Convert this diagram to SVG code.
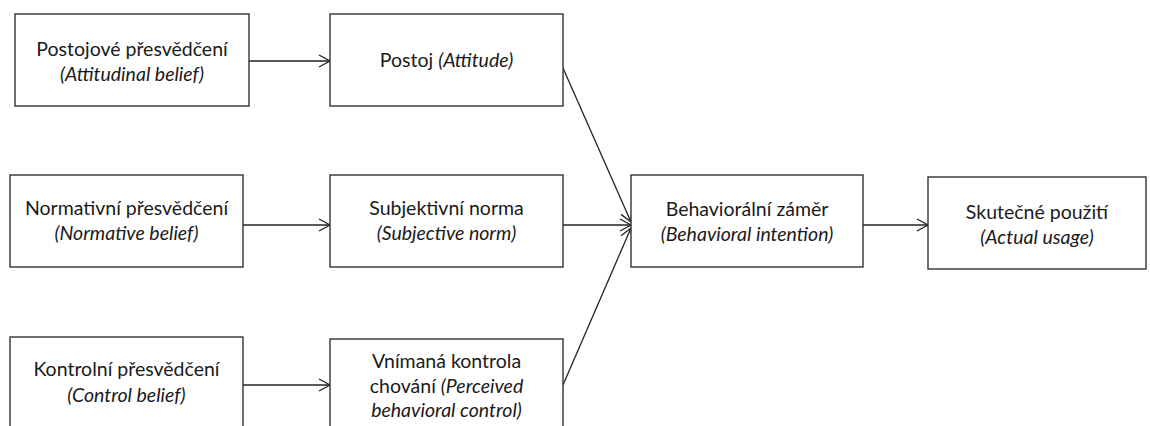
<svg xmlns="http://www.w3.org/2000/svg" width="1150" height="426" viewBox="0 0 1150 426">
  <style>
    .box { fill: #ffffff; stroke: #333333; stroke-width: 1.4; }
    .lbl { font-family: Lato, "Open Sans", "Liberation Sans", sans-serif; font-size: 19.5px; fill: #1a1a1a; text-anchor: middle; }
    .it { font-style: italic; }
    .conn { fill: none; stroke: #222222; stroke-width: 1.3; }
  </style>
  <defs>
    <marker id="arrow" markerUnits="userSpaceOnUse" markerWidth="14" markerHeight="14" viewBox="-12 -7 14 14" refX="0" refY="0" orient="auto">
      <path d="M-11,-6 L0,0 L-11,6" fill="none" stroke="#222222" stroke-width="1.3"/>
    </marker>
  </defs>
  <rect width="1150" height="426" fill="#ffffff"/>

  <g id="connectors">
    <line class="conn" x1="249" y1="61" x2="330" y2="61" marker-end="url(#arrow)"/>
    <line class="conn" x1="243" y1="225" x2="330" y2="225" marker-end="url(#arrow)"/>
    <line class="conn" x1="243" y1="385" x2="330" y2="385" marker-end="url(#arrow)"/>
    <line class="conn" x1="563" y1="68" x2="631" y2="222" marker-end="url(#arrow)"/>
    <line class="conn" x1="563" y1="225" x2="631" y2="225" marker-end="url(#arrow)"/>
    <line class="conn" x1="563" y1="385" x2="631" y2="228" marker-end="url(#arrow)"/>
    <line class="conn" x1="863" y1="225" x2="928" y2="225" marker-end="url(#arrow)"/>
  </g>

  <g id="attitudinal-belief">
    <rect class="box" x="15" y="14" width="234" height="92"/>
    <text class="lbl" x="132" y="56">Postojové přesvědčení</text>
    <text class="lbl it" x="132" y="81">(Attitudinal belief)</text>
  </g>
  <g id="attitude">
    <rect class="box" x="330" y="14" width="233" height="92"/>
    <text class="lbl" x="446.5" y="67">Postoj <tspan class="it">(Attitude)</tspan></text>
  </g>

  <g id="normative-belief">
    <rect class="box" x="10" y="175" width="233" height="92"/>
    <text class="lbl" x="126.5" y="215">Normativní přesvědčení</text>
    <text class="lbl it" x="126.5" y="240">(Normative belief)</text>
  </g>
  <g id="subjective-norm">
    <rect class="box" x="330" y="175" width="233" height="92"/>
    <text class="lbl" x="446.5" y="215">Subjektivní norma</text>
    <text class="lbl it" x="446.5" y="240">(Subjective norm)</text>
  </g>

  <g id="control-belief">
    <rect class="box" x="10" y="337" width="233" height="100"/>
    <text class="lbl" x="126.5" y="376">Kontrolní přesvědčení</text>
    <text class="lbl it" x="126.5" y="402">(Control belief)</text>
  </g>
  <g id="perceived-control">
    <rect class="box" x="330" y="339" width="233" height="100"/>
    <text class="lbl" x="446.5" y="368">Vnímaná kontrola</text>
    <text class="lbl" x="446.5" y="393">chování <tspan class="it">(Perceived</tspan></text>
    <text class="lbl it" x="446.5" y="417">behavioral control)</text>
  </g>

  <g id="behavioral-intention">
    <rect class="box" x="631" y="175" width="232" height="92"/>
    <text class="lbl" x="747" y="216">Behaviorální záměr</text>
    <text class="lbl it" x="747" y="241">(Behavioral intention)</text>
  </g>
  <g id="actual-usage">
    <rect class="box" x="928" y="177" width="218" height="92"/>
    <text class="lbl" x="1037" y="219">Skutečné použití</text>
    <text class="lbl it" x="1037" y="244">(Actual usage)</text>
  </g>
</svg>
